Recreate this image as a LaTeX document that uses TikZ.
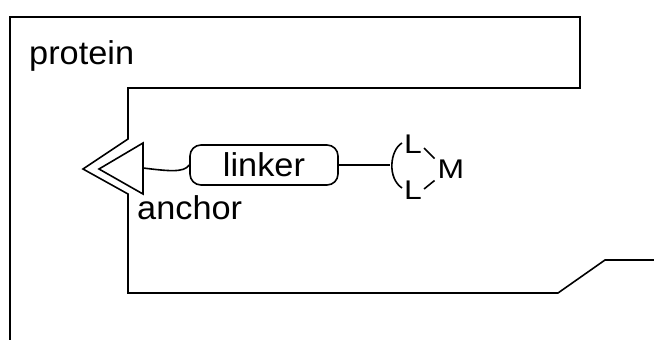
\documentclass[tikz,border=0pt]{standalone}
\usepackage{fontspec}
\setmainfont{Liberation Sans}
\usetikzlibrary{calc}
\newcommand{\wide}[1]{\scalebox{1.04}[1]{#1}}
\newcommand{\widesm}[1]{\scalebox{1.18}[1]{#1}}
\tikzset{
  outline/.style={line width=1.6pt, line join=miter},
  lbl/.style={inner sep=0pt, font=\fontsize{33}{33}\selectfont},
  small/.style={inner sep=0pt, font=\fontsize{27}{27}\selectfont},
  linkbox/.style={draw, line width=1.6pt, rounded corners=11pt, minimum width=148pt, minimum height=40pt, inner sep=0pt, font=\fontsize{33}{33}\selectfont},
  wire/.style={line width=1.6pt}
}
\begin{document}
\begin{tikzpicture}[x=1pt,y=-1pt]
\useasboundingbox (0,0) rectangle (654,340);
% protein outline
\draw[outline] (10,341) -- (10,17) -- (580,17) -- (580,88) -- (128,88) -- (128,139)
  -- (83,169) -- (128,194) -- (128,293) -- (558,293) -- (605,260) -- (655,260);
% anchor triangle
\draw[outline] (99,169) -- (143,143) -- (143,194) -- cycle;
\coordinate (tri) at (143,168);
% labels
\node[lbl, anchor=base west] (protein) at (29,64) {\wide{protein}};
\node[lbl, anchor=base west] (anchor) at (137,219) {\wide{anchor}};
% linker
\node[linkbox] (linker) at (264,165) {\wide{linker}};
\draw[wire] (tri) .. controls (168,171) and (184,173) .. (linker.west);
% ligand
\coordinate (arcmid) at (390,165);
\draw[wire] (linker.east) -- (arcmid);
\draw[wire] (402,143) .. controls (390,150) and (387,178) .. (402,188);
\node[small] (L1) at (413,144) {\widesm{L}};
\node[small] (L2) at (413,190) {\widesm{L}};
\node[small] (M) at (451,169) {\widesm{M}};
\draw[wire] ($(L1.east)+(2,4)$) -- ($(M.north west)+(-3,-1)$);
\draw[wire] ($(L2.east)+(2,-1)$) -- ($(M.south west)+(-3,2)$);
\end{tikzpicture}
\end{document}
